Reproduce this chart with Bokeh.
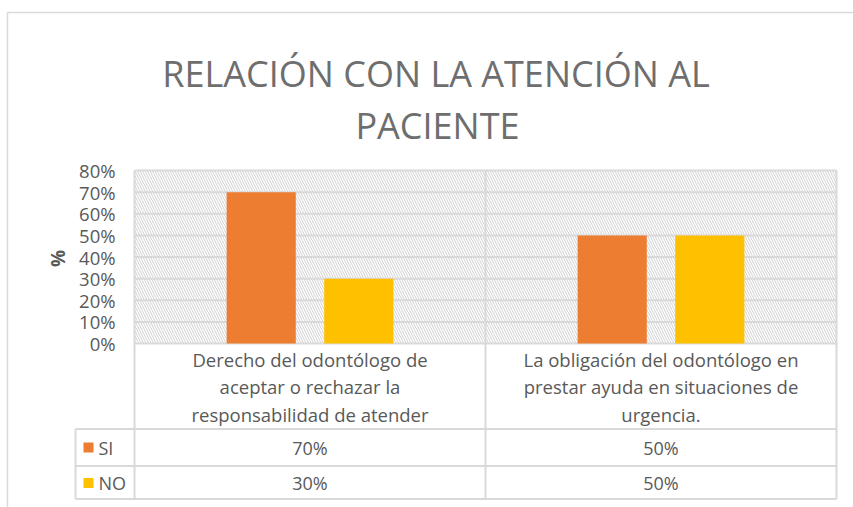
import math
from bokeh.plotting import figure
from bokeh.models import Range1d, BoxAnnotation, ColumnDataSource
from bokeh.embed import file_html
from bokeh.resources import INLINE
from bokeh.core.properties import value

# ---- data ----
title_lines = ["RELACIÓN CON LA ATENCIÓN AL", "PACIENTE"]
categories = ["Derecho del odontólogo de\naceptar o rechazar la\nresponsabilidad de atender",
              "La obligación del odontólogo en\nprestar ayuda en situaciones de\nurgencia."]
series_names = ["SI", "NO"]
si_values = [0.70, 0.50]
no_values = [0.30, 0.50]
y_ticks = [0, 0.1, 0.2, 0.3, 0.4, 0.5, 0.6, 0.7, 0.8]
y_tick_labels = ["0%", "10%", "20%", "30%", "40%", "50%", "60%", "70%", "80%"]
y_axis_label = "%"

colors = ["#ED7D31", "#FFC000"]
text_color = "#595959"
title_color = "#6E6E6E"
grid_color = "#D9D9D9"
FONT = "Open Sans"

W, H = 853, 507
n = len(categories)
centers = [i + 0.5 for i in range(n)]
bar_w = 0.197
off = 0.139

# pixel layout of the plot area (page coordinates)
FL, FR, FT = 134, 836, 170
Y0 = 343                       # page y of value 0
ppx = (FR - FL) / n            # pixels per category
ppy = (Y0 - FT) / y_ticks[-1]  # pixels per unit of value


def xpx(px):
    return (px - FL) / ppx


def ypx(py):
    return (Y0 - py) / ppy


p = figure(width=W, height=H, x_range=Range1d(xpx(0), xpx(W)), y_range=Range1d(ypx(H), ypx(0)),
           output_backend="svg", toolbar_location=None, x_axis_location=None,
           y_axis_location=None, min_border=0, min_border_left=0, min_border_right=0,
           min_border_top=0, min_border_bottom=0)
p.outline_line_color = None
p.grid.visible = False

# chart border (left and top edges visible)
p.segment(x0=[xpx(7), xpx(7)], x1=[xpx(7), xpx(W + 5)], y0=[ypx(H + 5), ypx(12)],
          y1=[ypx(12), ypx(12)], line_color=grid_color, line_width=1.5)

# hatched plot area
p.add_layout(BoxAnnotation(left=0, right=n, bottom=0, top=y_ticks[-1], fill_alpha=0, line_alpha=0,
                           hatch_pattern="\\", hatch_color="#D0D0D0", hatch_scale=5,
                           hatch_weight=1, level="image"))

# horizontal gridlines
p.segment(x0=[0] * len(y_ticks), x1=[n] * len(y_ticks), y0=y_ticks, y1=y_ticks,
          line_color=grid_color, line_width=2)

# y tick labels and axis title
p.text(x=[xpx(115)] * len(y_ticks), y=y_ticks, text=y_tick_labels, text_align="right",
       text_baseline="middle", text_font=value(FONT), text_font_size="18.5px",
       text_color=text_color)
p.text(x=[xpx(57)], y=[ypx(258)], text=[y_axis_label], angle=math.pi / 2, text_align="center",
       text_baseline="middle", text_font=value(FONT), text_font_size="19px",
       text_font_style="bold", text_color=text_color)

# bars
src = ColumnDataSource(dict(x_si=[c - off for c in centers], x_no=[c + off for c in centers],
                            si=si_values, no=no_values))
p.vbar(x="x_si", top="si", bottom=0, width=bar_w, source=src, fill_color=colors[0], line_color=None)
p.vbar(x="x_no", top="no", bottom=0, width=bar_w, source=src, fill_color=colors[1], line_color=None)

# title
title_base = [73, 125]
title_cx = [435.5, 437]
p.text(x=[xpx(c) for c in title_cx], y=[ypx(b) for b in title_base], text=title_lines,
       text_align="center", text_baseline="alphabetic", text_font=value(FONT),
       text_font_size="36px", text_color=title_color)

# ---- data table below the plot ----
row_lines = [428.5, 465.5, 498.5]
LX0 = 75
p.segment(x0=[xpx(LX0)] * 3, x1=[n] * 3, y0=[ypx(v) for v in row_lines],
          y1=[ypx(v) for v in row_lines], line_color=grid_color, line_width=2)
vx = list(range(n + 1))
p.segment(x0=vx, x1=vx, y0=[y_ticks[-1]] * len(vx), y1=[ypx(row_lines[-1])] * len(vx),
          line_color=grid_color, line_width=2)
p.segment(x0=[xpx(LX0)], x1=[xpx(LX0)], y0=[ypx(row_lines[0])], y1=[ypx(row_lines[-1])],
          line_color=grid_color, line_width=2)

p.text(x=centers, y=[ypx(386)] * n, text=categories, text_align="center", text_baseline="middle",
       text_font=value(FONT), text_font_size="18.5px", text_color=text_color, text_line_height=1.1)

row_mid = [447, 482.5]
for s, (vals, col) in enumerate(zip([si_values, no_values], colors)):
    p.text(x=centers, y=[ypx(row_mid[s])] * n, text=[f"{round(v * 100)}%" for v in vals],
           text_align="center", text_baseline="middle", text_font=value(FONT),
           text_font_size="18px", text_color=text_color)
    p.scatter(x=[xpx(88)], y=[ypx(row_mid[s])], marker="square", size=10, fill_color=col,
              line_color=None)
    p.text(x=[xpx(98)], y=[ypx(row_mid[s])], text=[series_names[s]], text_align="left",
           text_baseline="middle", text_font=value(FONT), text_font_size="18px",
           text_color=text_color)

open("out.html", "w").write(file_html(p, INLINE))
